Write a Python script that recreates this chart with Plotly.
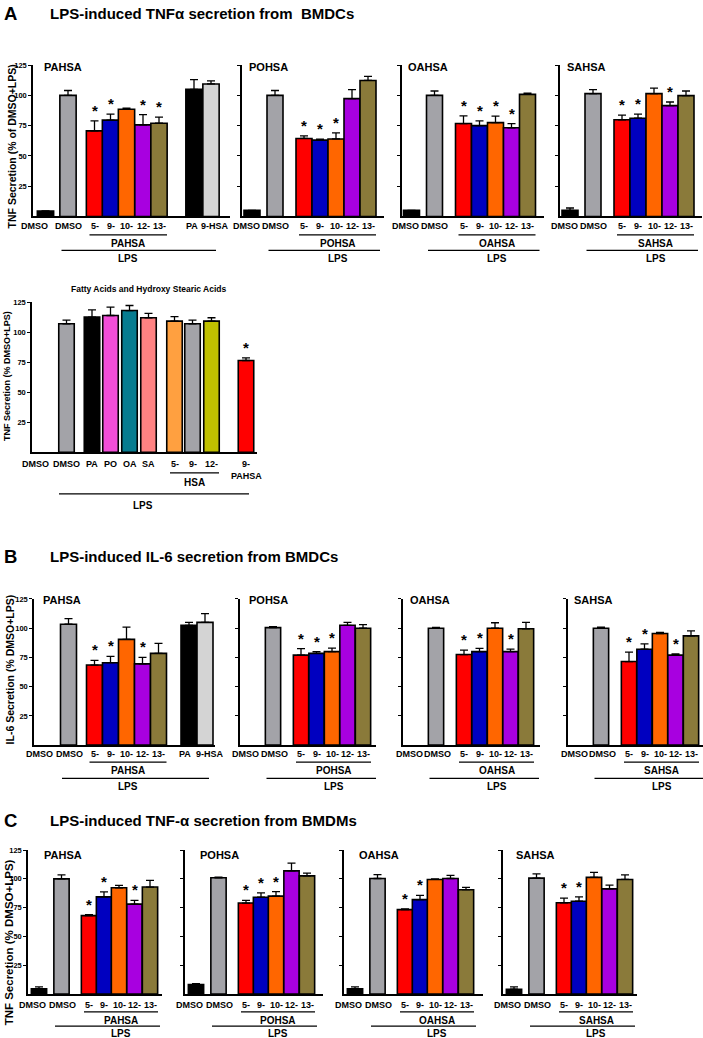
import plotly.graph_objects as go

W, H = 703, 1038
FONT = "Liberation Sans, Arial, Helvetica, sans-serif"

# ---------------- DATA ----------------
LABELS_7 = ["DMSO", "DMSO", "5-", "9-", "10-", "12-", "13-"]
LABELS_9 = LABELS_7 + ["PA", "9-HSA"]
LABELS_FA = ["DMSO", "DMSO", "PA", "PO", "OA", "SA", "5-", "9-", "12-", "9-"]

# A: LPS-induced TNFa secretion from BMDCs
A_PAHSA = [4.5, 100, 70.7, 79.5, 88.5, 75.6, 77, 105, 109.4]
A_PAHSA_SEM = [0, 4, 8.3, 5, 1, 8.4, 5, 8, 2.6]
A_PAHSA_SIG = [0, 0, 1, 1, 0, 1, 1, 0, 0]
A_POHSA = [5, 100, 64.4, 63, 64, 97.3, 112.3]
A_POHSA_SEM = [0, 4, 2.1, 0.8, 5, 7.4, 3.3]
A_POHSA_SIG = [0, 0, 1, 1, 1, 0, 0]
A_OAHSA = [5, 100, 76.7, 75, 77.5, 73.2, 100.8]
A_OAHSA_SEM = [0, 3.6, 6.3, 4, 5.3, 3.5, 1.1]
A_OAHSA_SIG = [0, 0, 1, 1, 1, 1, 0]
A_SAHSA = [5, 101.4, 79.8, 81.1, 101.4, 91.5, 99.8]
A_SAHSA_SEM = [2, 3.3, 3.8, 3.4, 4.6, 3, 3.8]
A_SAHSA_SIG = [0, 0, 1, 1, 0, 1, 0]

# A (lower): fatty acids and hydroxy stearic acids
A_FA = [None, 107, 112.5, 113.9, 118, 112, 109.2, 107, 109.2, 76.4]
A_FA_SEM = [0, 3, 6, 7, 4.2, 3.6, 3.8, 3, 2.8, 2.2]
A_FA_SIG = [0, 0, 0, 0, 0, 0, 0, 0, 0, 1]

# B: LPS-induced IL-6 secretion from BMDCs
B_PAHSA = [None, 103.4, 68.5, 70.5, 90.5, 69.5, 78.5, 102.5, 105]
B_PAHSA_SEM = [0, 4.8, 4, 5.5, 10.5, 5.5, 8.5, 2.5, 7.5]
B_PAHSA_SIG = [0, 0, 1, 1, 0, 1, 0, 0, 0]
B_POHSA = [None, 100.5, 77, 78.5, 80, 102.5, 100]
B_POHSA_SEM = [0, 0.8, 5.5, 1.5, 3, 2.5, 3]
B_POHSA_SIG = [0, 0, 1, 1, 1, 0, 0]
B_OAHSA = [None, 100, 77.5, 80, 100, 80, 99.5]
B_OAHSA_SEM = [0, 0.8, 3.8, 2.7, 4.7, 2.2, 5.5]
B_OAHSA_SIG = [0, 0, 1, 1, 0, 1, 0]
B_SAHSA = [None, 100, 71.5, 82, 95.5, 77, 93.5]
B_SAHSA_SEM = [0, 1, 8, 4.7, 1, 1, 4.2]
B_SAHSA_SIG = [0, 0, 1, 1, 0, 1, 0]

# C: LPS-induced TNF-a secretion from BMDMs
C_PAHSA = [4.6, 100, 68.1, 84.4, 92.3, 78.1, 92.9]
C_PAHSA_SEM = [1.7, 3.4, 0.9, 4.3, 2, 3.2, 5.7]
C_PAHSA_SIG = [0, 0, 1, 1, 0, 1, 0]
C_POHSA = [8.3, 100.9, 79, 84.1, 85, 106.9, 102.6]
C_POHSA_SEM = [0.8, 0.5, 2.3, 3.8, 4, 6.8, 2.3]
C_POHSA_SIG = [0, 0, 1, 1, 1, 0, 0]
C_OAHSA = [4.6, 100.3, 73.3, 82, 99.5, 100.3, 90.6]
C_OAHSA_SEM = [1.7, 3.4, 0.7, 3.6, 0.5, 2.7, 2]
C_OAHSA_SIG = [0, 0, 1, 1, 0, 0, 0]
C_SAHSA = [4.3, 100.6, 79.3, 80.6, 101.3, 91.3, 99.5]
C_SAHSA_SEM = [2, 3.7, 4, 3.7, 4.3, 3.3, 3.9]
C_SAHSA_SIG = [0, 0, 1, 1, 0, 0, 0]

Y_TICKS = [25, 50, 75, 100, 125]

# ---------------- STYLE ----------------
BLACK = "#000000"; GRAY = "#A3A3A8"; RED = "#FF0000"; BLUE = "#0000C0"
ORANGE = "#FF6600"; PURPLE = "#A800E0"; OLIVE = "#8A7A3A"; LGRAY = "#D4D4D4"
PINK = "#F24ED8"; TEAL = "#067C90"; SALMON = "#FF8282"; LORANGE = "#FFA040"
YELLOW = "#C0C000"
COL7 = [BLACK, GRAY, RED, BLUE, ORANGE, PURPLE, OLIVE]
COL9 = COL7 + [BLACK, LGRAY]
COL_FA = [BLACK, GRAY, BLACK, PINK, TEAL, SALMON, LORANGE, GRAY, YELLOW, RED]


def px_x(p):
    return p / W


def px_y(p):
    return 1 - p / H


fig = go.Figure()
annotations = []
shapes = []
axes = {}
counter = [0]


def bold_font(size):
    return dict(family=FONT, size=size, color="black", weight="bold")


def text(x, y, s, size, xref="paper", yref="paper", xanchor="center", yanchor="middle", angle=0):
    annotations.append(dict(x=x, y=y, xref=xref, yref=yref, text=s, showarrow=False,
                            xanchor=xanchor, yanchor=yanchor, textangle=angle,
                            font=bold_font(size)))


def hline(xref, xa, xb, py):
    shapes.append(dict(type="line", xref=xref, yref="paper", x0=xa, x1=xb,
                       y0=px_y(py), y1=px_y(py), line=dict(color="black", width=1.3)))


def panel(x0, length, slots, bw, y0, y125, labels, vals, sem, sig, colors,
          show_ticklabels, lab_off, label_dx=None):
    counter[0] += 1
    i = counter[0]
    xa = "x" if i == 1 else f"x{i}"
    ya = "y" if i == 1 else f"y{i}"
    axes["xaxis" if i == 1 else f"xaxis{i}"] = dict(
        domain=[px_x(x0), px_x(x0 + length)], range=[0, length], anchor=ya,
        showline=True, linecolor="black", linewidth=1.5, ticks="",
        showticklabels=False, showgrid=False, zeroline=False, fixedrange=True)
    axes["yaxis" if i == 1 else f"yaxis{i}"] = dict(
        domain=[px_y(y0), px_y(y125)], range=[0, 125], anchor=xa,
        showline=True, linecolor="black", linewidth=1.5, showgrid=False,
        zeroline=False, tickvals=Y_TICKS, ticks="outside", ticklen=3,
        tickwidth=1.2, tickcolor="black", showticklabels=show_ticklabels,
        tickfont=bold_font(7.5), fixedrange=True)
    keep = [k for k, v in enumerate(vals) if v is not None]
    fig.add_trace(go.Bar(
        x=[slots[k] for k in keep], y=[vals[k] for k in keep], width=bw,
        marker=dict(color=[colors[k] for k in keep], line=dict(color="black", width=1.6)),
        error_y=dict(type="data", symmetric=False, array=[sem[k] for k in keep],
                     arrayminus=[0] * len(keep), color="black", thickness=1.3, width=4),
        xaxis=xa, yaxis=ya, showlegend=False, hoverinfo="skip"))
    for k in keep:
        if sig[k]:
            annotations.append(dict(x=slots[k], y=vals[k] + sem[k], xref=xa, yref=ya,
                                    text="*", showarrow=False, xanchor="center",
                                    yanchor="bottom", font=bold_font(15)))
    dx = label_dx or [0] * len(labels)
    for k, lab in enumerate(labels):
        text(slots[k] + dx[k], px_y(y0 + lab_off), lab, 9, xref=xa)
    return xa


def hsa_groups(xa, slots, y0, offs, group_name, last_idx, lps_pad):
    g_a, g_b = slots[2] - 5, slots[6] + 8
    hline(xa, g_a, g_b, y0 + offs[1])
    text((g_a + g_b) / 2, px_y(y0 + offs[2]), group_name, 10, xref=xa)
    hline(xa, slots[1] - 6.5, slots[last_idx] + lps_pad, y0 + offs[3])
    text((g_a + g_b) / 2, px_y(y0 + offs[4]), "LPS", 10, xref=xa)


DX7 = [-6, 0, 0, 0, 0, 0, 0]

# ----- Section A, upper row -----
SL9_A = [12.5, 35, 61.5, 77.5, 93.5, 110, 126, 161, 178]
SL7_A = [10, 33, 62, 78, 94, 110, 126]
A_Y0, A_Y125 = 213.3, 61.3
A_OFF = [10, 18.4, 27, 34, 42.5]
xa = panel(33, 197, SL9_A, 16.3, A_Y0, A_Y125, LABELS_9, A_PAHSA, A_PAHSA_SEM, A_PAHSA_SIG, COL9, True,
           A_OFF[0], [-11, 0, 0, 0, 0, 0, 0, -2.5, 4])
hsa_groups(xa, SL9_A, A_Y0, A_OFF, "PAHSA", 8, 5)
for x0, name, v, s, g in [(242, "POHSA", A_POHSA, A_POHSA_SEM, A_POHSA_SIG),
                          (401.5, "OAHSA", A_OAHSA, A_OAHSA_SEM, A_OAHSA_SIG),
                          (560, "SAHSA", A_SAHSA, A_SAHSA_SEM, A_SAHSA_SIG)]:
    xa = panel(x0, 142, SL7_A, 16, A_Y0, A_Y125, LABELS_7, v, s, g, COL7, False, A_OFF[0], DX7)
    hsa_groups(xa, SL7_A, A_Y0, A_OFF, name, 6, 12)
for x0, name in [(42, "PAHSA"), (247, "POHSA"), (406, "OAHSA"), (565, "SAHSA")]:
    text(px_x(x0), px_y(63.3), name, 11, xanchor="left")

# ----- Section A, lower panel -----
SL_FA = [3, 34.5, 60, 78.5, 97.5, 116.5, 142.5, 160.5, 179.5, 214]
FA_Y0, FA_Y125 = 450, 299.3
xa = panel(32, 225, SL_FA, 15.5, FA_Y0, FA_Y125, LABELS_FA, A_FA, A_FA_SEM, A_FA_SIG, COL_FA, True, 11.7)
hline(xa, SL_FA[6] - 4.5, SL_FA[8] + 7.5, FA_Y0 + 20.7)
text((SL_FA[6] + SL_FA[8] + 3) / 2, px_y(FA_Y0 + 30.7), "HSA", 10, xref=xa)
text(SL_FA[9], px_y(FA_Y0 + 24), "PAHSA", 9, xref=xa)
hline(xa, SL_FA[1] - 7.5, SL_FA[9] + 3, FA_Y0 + 41.7)
text(111, px_y(FA_Y0 + 53.3), "LPS", 10, xref=xa)
text(px_x(149), px_y(286), "Fatty Acids and Hydroxy Stearic Acids", 8.5)

# ----- Section B -----
SL9_B = [5, 34.5, 60.5, 76.5, 92.5, 108.5, 124.5, 155, 171]
SL7_B = [7, 33, 61, 76.5, 92, 107.5, 123]
B_Y0, B_Y125 = 744, 597.3
B_OFF = [9.3, 17, 25.3, 33.3, 41.7]
xa = panel(34, 181, SL9_B, 16, B_Y0, B_Y125, LABELS_9, B_PAHSA, B_PAHSA_SEM, B_PAHSA_SIG, COL9, True,
           B_OFF[0], [0, 0.5, 0, 0, 0, 0, 0, -4, 4.5])
hsa_groups(xa, SL9_B, B_Y0, B_OFF, "PAHSA", 8, 4)
for x0, length, name, v, s, g in [(240, 136, "POHSA", B_POHSA, B_POHSA_SEM, B_POHSA_SIG),
                                  (403, 137, "OAHSA", B_OAHSA, B_OAHSA_SEM, B_OAHSA_SIG),
                                  (568, 135, "SAHSA", B_SAHSA, B_SAHSA_SEM, B_SAHSA_SIG)]:
    xa = panel(x0, length, SL7_B, 15.3, B_Y0, B_Y125, LABELS_7, v, s, g, COL7, False, B_OFF[0],
               [-1, 1.5, 0, 0, 0, 0, 0])
    hsa_groups(xa, SL7_B, B_Y0, B_OFF, name, 6, 13)
for x0, name in [(41, "PAHSA"), (247, "POHSA"), (408, "OAHSA"), (572, "SAHSA")]:
    text(px_x(x0), px_y(598), name, 11, xanchor="left")

# ----- Section C -----
SL7_C = [11, 33.5, 61, 76, 91, 106.5, 122]
C_Y0, C_Y125 = 994, 849.3
C_OFF = [11, 17.7, 26.5, 32, 39.5]
for x0, length, name, v, s, g, show in [(28, 134, "PAHSA", C_PAHSA, C_PAHSA_SEM, C_PAHSA_SIG, True),
                                        (185, 138, "POHSA", C_POHSA, C_POHSA_SEM, C_POHSA_SIG, False),
                                        (344, 139, "OAHSA", C_OAHSA, C_OAHSA_SEM, C_OAHSA_SIG, False),
                                        (503, 134, "SAHSA", C_SAHSA, C_SAHSA_SEM, C_SAHSA_SIG, False)]:
    xa = panel(x0, length, SL7_C, 15.3, C_Y0, C_Y125, LABELS_7, v, s, g, COL7, show, C_OFF[0],
               [-7, 1, 0, 0, 0, 0, 0])
    hsa_groups(xa, SL7_C, C_Y0, C_OFF, name, 6, 10)
for x0, name in [(42, "PAHSA"), (198, "POHSA"), (357, "OAHSA"), (514, "SAHSA")]:
    text(px_x(x0), px_y(854), name, 11, xanchor="left")

# ----- Section titles and y-axis titles -----
for letter, py, title in [("A", 10, "LPS-induced TNFα secretion from  BMDCs"),
                          ("B", 554.5, "LPS-induced IL-6 secretion from BMDCs"),
                          ("C", 820, "LPS-induced TNF-α secretion from BMDMs")]:
    text(px_x(2), px_y(py), letter, 18.5, xanchor="left")
    text(px_x(48), px_y(py), title, 15, xanchor="left")

text(px_x(12), px_y(143), "TNF Secretion (% of DMSO+LPS)", 10.5, angle=-90)
text(px_x(6.5), px_y(374), "TNF Secretion (% DMSO+LPS)", 9, angle=-90)
text(px_x(10), px_y(668), "IL-6 Secretion (% DMSO+LPS)", 10.5, angle=-90)
text(px_x(9), px_y(942), "TNF Secretion (% DMSO+LPS)", 11.5, angle=-90)

fig.update_layout(width=W, height=H, margin=dict(l=0, r=0, t=0, b=0),
                  paper_bgcolor="white", plot_bgcolor="white",
                  annotations=annotations, shapes=shapes, **axes)

fig.write_html("out.html", config={"displayModeBar": False},
               post_script="document.body.style.margin='0';")
